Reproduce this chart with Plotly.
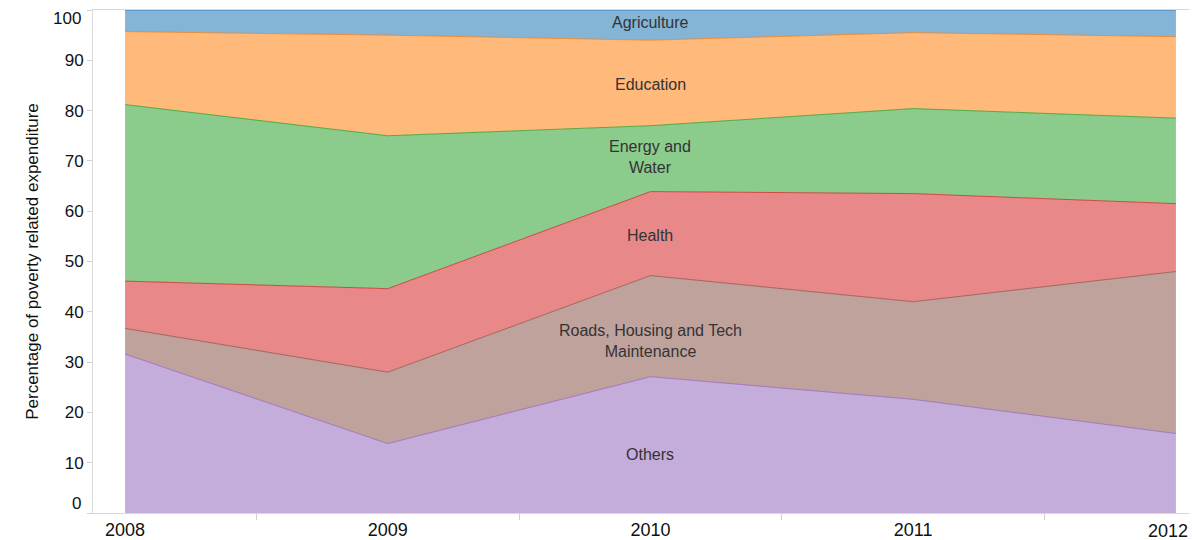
import plotly.graph_objects as go

years = [2008, 2009, 2010, 2011, 2012]
others = [31.6, 13.8, 27.1, 22.6, 15.8]
roads = [5.1, 14.2, 20.1, 19.4, 32.2]
health = [9.4, 16.6, 16.7, 21.5, 13.5]
energy = [35.1, 30.4, 13.1, 16.9, 17.0]
education = [14.5, 20.0, 17.0, 15.1, 16.2]
agriculture = [4.3, 5.0, 6.0, 4.5, 5.3]

series_names = ["Others", "Roads, Housing and Tech Maintenance", "Health",
                "Energy and Water", "Education", "Agriculture"]
series_values = [others, roads, health, energy, education, agriculture]
base_colors = [(148, 103, 189), (140, 86, 75), (214, 39, 40),
               (44, 160, 44), (255, 127, 14), (31, 119, 180)]

label_texts = ["Others", "Roads, Housing and Tech<br>Maintenance", "Health",
               "Energy and<br>Water", "Education", "Agriculture"]
label_y = [11.7, 34.1, 55.2, 70.8, 85.1, 97.6]

x_ticktext = [str(y) for y in years]
y_ticks = list(range(0, 101, 10))
y_ticktext = ["" if v in (0, 100) else str(v) for v in y_ticks]

FONT = "Liberation Sans, Arial"
TICK_FONT = dict(family=FONT, size=18, color="#111111")

fig = go.Figure()
for name, vals, (r, g, b) in zip(series_names, series_values, base_colors):
    fig.add_trace(go.Scatter(
        x=years, y=vals, name=name, mode="lines", stackgroup="one",
        line=dict(color=f"rgba({r},{g},{b},0.75)", width=1),
        fillcolor=f"rgba({r},{g},{b},0.55)",
        hoverinfo="x+y+name",
    ))

for txt, yv in zip(label_texts, label_y):
    fig.add_annotation(x=2010, y=yv, text=txt, showarrow=False,
                       font=dict(family=FONT, size=16, color="#333333"),
                       xanchor="center", yanchor="middle")

# end tick labels nudged inward, as in the reference
fig.add_annotation(x=0, xref="paper", y=100, yref="y", text="100", showarrow=False,
                   xanchor="right", yanchor="middle", xshift=-10, yshift=-8,
                   font=dict(family=FONT, size=17, color="#111111"))
fig.add_annotation(x=0, xref="paper", y=0, yref="y", text="0", showarrow=False,
                   xanchor="right", yanchor="middle", xshift=-10, yshift=10,
                   font=dict(family=FONT, size=17, color="#111111"))
# last x label kept inside the visible edge
fig.add_annotation(x=years[-1], xref="x", y=0, yref="paper", text=x_ticktext[-1],
                   showarrow=False, xanchor="right", yanchor="top",
                   xshift=14, yshift=-6, font=TICK_FONT)

fig.update_layout(
    width=1190, height=532,
    margin=dict(l=85, r=0, t=2, b=27),
    paper_bgcolor="white", plot_bgcolor="white",
    showlegend=False,
    font=dict(family=FONT, size=17, color="#111111"),
)
fig.update_xaxes(
    range=[2007.878, 2012.084],
    tickvals=years, ticktext=x_ticktext[:-1] + [""],
    ticks="", showgrid=False, zeroline=False, automargin=False,
    showline=True, linecolor="#d9d9d9", linewidth=1, mirror=True,
    tickfont=TICK_FONT,
    minor=dict(tickvals=[2008.5, 2009.5, 2010.5, 2011.5], ticks="outside",
               ticklen=6, tickcolor="#d0d0d0", tickwidth=1, showgrid=False),
)
fig.update_yaxes(
    range=[0, 100], tickvals=y_ticks, ticktext=y_ticktext,
    ticks="outside", ticklen=5, tickcolor="#d0d0d0",
    showgrid=False, zeroline=False, automargin=False,
    showline=True, linecolor="#d9d9d9", linewidth=1,
    tickfont=dict(family=FONT, size=17, color="#111111"),
    title=dict(text="Percentage of poverty related expenditure",
               font=dict(family=FONT, size=17, color="#111111"), standoff=21),
)

fig.write_html("out.html")
